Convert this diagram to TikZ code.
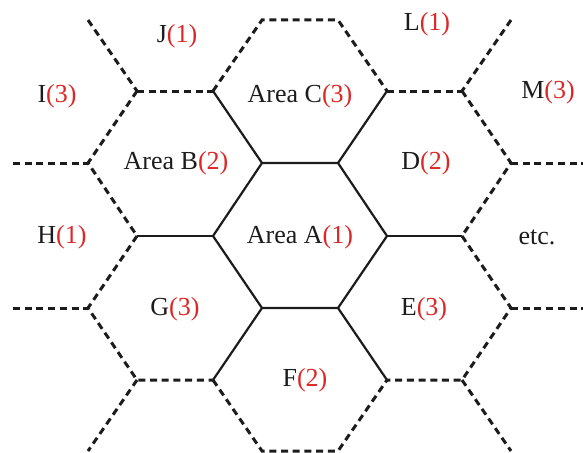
\documentclass[tikz,border=0pt]{standalone}
\usepackage{fontspec}
\setmainfont{Liberation Serif}
\usepackage{tikz}
\usetikzlibrary{positioning}
\usepackage{xcolor}
\definecolor{numred}{RGB}{221,38,38}
\definecolor{edgeblk}{RGB}{28,28,28}

\begin{document}
\begin{tikzpicture}[
  x=1pt, y=-1pt,
  font=\fontsize{26}{30}\selectfont,
  inner/.style = {draw=edgeblk, line width=2.2pt, line join=miter},
  outer/.style = {draw=edgeblk, line width=3pt, dash pattern=on 7pt off 4.7pt},
  cell/.style  = {text=edgeblk, inner sep=0pt},
]
\useasboundingbox (0,0) rectangle (583,452);

% ================= vertex grid =========================================
\foreach \i/\x in {0/13,1/88,2/137,3/213,4/262,5/338,6/387,7/462,8/511,9/583}
  \foreach \j/\y in {0/20,1/91,2/163,3/236,4/308,5/380,6/451}
    \coordinate (p\i\j) at (\x,\y);

% ================= serving area A and its six borders ==================
\draw[inner] (p42) -- (p52) -- (p63) -- (p54) -- (p44) -- (p33) -- cycle;
\draw[inner] (p42) -- (p31);
\draw[inner] (p52) -- (p61);
\draw[inner] (p63) -- (p73);
\draw[inner] (p54) -- (p65);
\draw[inner] (p44) -- (p35);
\draw[inner] (p33) -- (p23);

% ================= outer ring (dashed) =================================
\draw[outer] (p31) -- (p40) -- (p50) -- (p61);
\draw[outer] (p21) -- (p31);
\draw[outer] (p61) -- (p71);
\draw[outer] (p10) -- (p21);
\draw[outer] (p80) -- (p71);
\draw[outer] (p21) -- (p12) -- (p23);
\draw[outer] (p71) -- (p82) -- (p73);
\draw[outer] (p02) -- (p12);
\draw[outer] (p82) -- (p92);
\draw[outer] (p23) -- (p14) -- (p25) -- (p35);
\draw[outer] (p73) -- (p84) -- (p75) -- (p65);
\draw[outer] (p04) -- (p14);
\draw[outer] (p84) -- (p94);
\draw[outer] (p25) -- (p16);
\draw[outer] (p75) -- (p86);
\draw[outer] (p35) -- (p46) -- (p56) -- (p65);

% ================= cell labels =========================================
\node[cell] (cJ) at (177,36)  {J\textcolor{numred}{(1)}};
\node[cell] (cL) at (427,24)  {L\textcolor{numred}{(1)}};
\node[cell] (cI) at (57,96)   {I\textcolor{numred}{(3)}};
\node[cell] (cM) at (548,92)  {M\textcolor{numred}{(3)}};
\node[cell] (cC) at (300,96)  {Area C\textcolor{numred}{(3)}};
\node[cell] (cB) at (176,163) {Area B\textcolor{numred}{(2)}};
\node[cell] (cD) at (426,163) {D\textcolor{numred}{(2)}};
\node[cell] (cH) at (62,237)  {H\textcolor{numred}{(1)}};
\node[cell] (cA) at (300,237) {Area A\textcolor{numred}{(1)}};
\node[cell] (cX) at (537,237) {etc.};
\node[cell] (cG) at (175,309) {G\textcolor{numred}{(3)}};
\node[cell] (cE) at (424,309) {E\textcolor{numred}{(3)}};
\node[cell] (cF) at (305,380) {F\textcolor{numred}{(2)}};

\end{tikzpicture}
\end{document}
